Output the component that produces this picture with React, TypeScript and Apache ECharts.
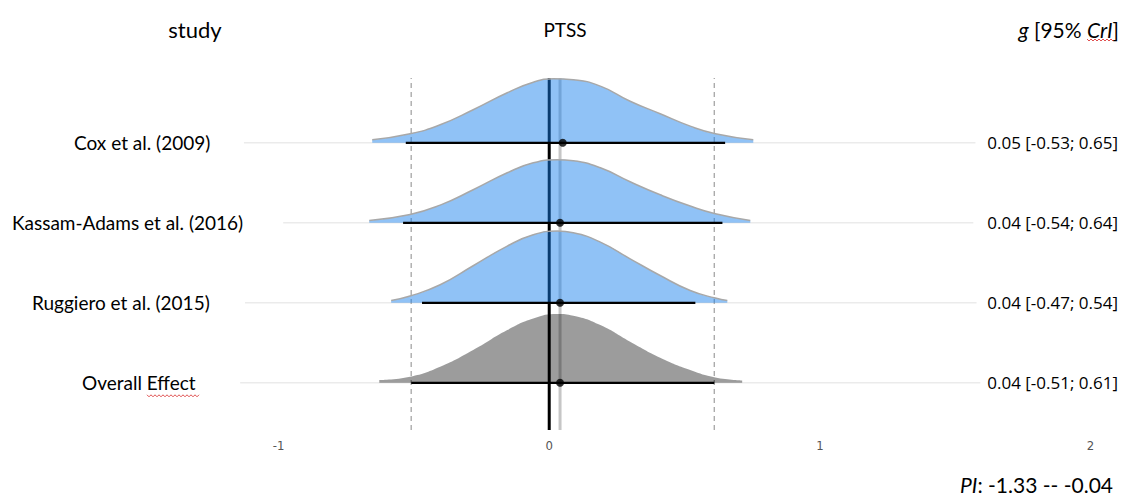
import React, { useEffect, useRef } from "react";
import * as echarts from "echarts";

// ---------- data ----------
const studies = ["Cox et al. (2009)", "Kassam-Adams et al. (2016)", "Ruggiero et al. (2015)", "Overall Effect"];
const rows = [4, 3, 2, 1];
const means = [0.05, 0.04, 0.04, 0.04];
const lower = [-0.53, -0.54, -0.47, -0.51];
const upper = [0.65, 0.64, 0.54, 0.61];
const estimateLabels = ["0.05 [-0.53; 0.65]", "0.04 [-0.54; 0.64]", "0.04 [-0.47; 0.54]", "0.04 [-0.51; 0.61]"];
const overallMean = 0.04;
const xTicks = [-1, 0, 1, 2];
const piText = "-1.33 -- -0.04";

// posterior densities (x, height as fraction of a row)
const coxX = [-0.654, -0.514, -0.403, -0.281, -0.155, -0.059, 0.015, 0.089, 0.189, 0.299, 0.41, 0.521, 0.614, 0.754];
const coxH = [0.038, 0.113, 0.225, 0.413, 0.625, 0.757, 0.8, 0.788, 0.708, 0.52, 0.363, 0.208, 0.113, 0.038];
const kassamX = [-0.665, -0.514, -0.403, -0.281, -0.155, -0.059, 0.03, 0.089, 0.189, 0.299, 0.41, 0.521, 0.614, 0.743];
const kassamH = [0.029, 0.104, 0.221, 0.413, 0.625, 0.75, 0.788, 0.775, 0.688, 0.513, 0.35, 0.209, 0.113, 0.029];
const ruggieroX = [-0.584, -0.514, -0.403, -0.281, -0.155, -0.059, 0.03, 0.089, 0.189, 0.299, 0.41, 0.521, 0.614, 0.658];
const ruggieroH = [0.029, 0.084, 0.225, 0.463, 0.709, 0.85, 0.896, 0.875, 0.759, 0.55, 0.341, 0.154, 0.059, 0.029];
const overallX = [-0.628, -0.514, -0.403, -0.281, -0.155, -0.059, 0.03, 0.089, 0.189, 0.299, 0.41, 0.521, 0.614, 0.713];
const overallH = [0.034, 0.075, 0.2, 0.409, 0.659, 0.804, 0.859, 0.838, 0.721, 0.513, 0.313, 0.159, 0.066, 0.029];

// ---------- layout / style ----------
const densX = [coxX, kassamX, ruggieroX, overallX];
const densH = [coxH, kassamH, ruggieroH, overallH];
const gridStart = [-1.128, -0.983, -1.124, -1.142];
const gridEnd = [1.575, 1.567, 1.579, 1.593];
const labelLeft = [74, 12, 32, 82];
const Y_MIN = 0.41;
const Y_MAX = 4.81;
const SANS = "Lato, 'Open Sans', sans-serif";
const NUMF = "'Open Sans', 'Noto Sans', sans-serif";

function squiggle(x0: number, x1: number, y: number) {
  const pts: number[][] = [];
  let up = true;
  for (let x = x0; x <= x1; x += 2) {
    pts.push([x, up ? y - 1 : y + 1]);
    up = !up;
  }
  return pts;
}

export default function App() {
  const ref = useRef<HTMLDivElement>(null);
  useEffect(() => {
    if (!ref.current) return;
    const chart = echarts.init(ref.current, null, { renderer: "svg" });
    const series: any[] = [];
    rows.forEach((r, i) => {
      series.push({
        type: "line",
        data: [[gridStart[i], r], [gridEnd[i], r]],
        symbol: "none",
        silent: true,
        lineStyle: { color: "#ebebeb", width: 1.5 },
        z: 1,
      });
    });
    [lower[3], upper[3]].forEach((v) => {
      series.push({
        type: "line",
        data: [[v, Y_MIN], [v, Y_MAX]],
        symbol: "none",
        silent: true,
        lineStyle: { color: "#ababab", width: 1.4, type: [5, 4] },
        z: 2,
      });
    });
    series.push({
      type: "line",
      data: [[0, Y_MIN], [0, Y_MAX]],
      symbol: "none",
      silent: true,
      lineStyle: { color: "#000", width: 3 },
      z: 2,
    });
    series.push({
      type: "line",
      data: [[overallMean, Y_MIN], [overallMean, Y_MAX]],
      symbol: "none",
      silent: true,
      lineStyle: { color: "#c6c6c6", width: 3 },
      z: 2,
    });
    rows.forEach((r, i) => {
      const isOverall = i === 3;
      series.push({
        type: "line",
        data: densX[i].map((x, j) => [x, r + densH[i][j]]),
        symbol: "none",
        smooth: 0.5,
        silent: true,
        lineStyle: { color: isOverall ? "rgba(0,0,0,0)" : "#a8a8a8", width: 1.5 },
        areaStyle: {
          color: isOverall ? "rgba(0,0,0,0.39)" : "rgba(20,125,235,0.47)",
          origin: r,
          opacity: 1,
        },
        z: 3,
      });
    });
    rows.forEach((r, i) => {
      series.push({
        type: "line",
        data: [[lower[i], r], [upper[i], r]],
        symbol: "none",
        silent: true,
        lineStyle: { color: "#000", width: 2.3 },
        z: 4,
      });
    });
    series.push({
      type: "scatter",
      data: rows.map((r, i) => [means[i], r]),
      symbol: "circle",
      symbolSize: 8,
      itemStyle: { color: "#000" },
      silent: true,
      z: 5,
    });

    chart.setOption({
      animation: false,
      grid: { left: 238, right: 17, top: 78, bottom: 65 },
      xAxis: {
        type: "value",
        min: -1.15,
        max: 2.05,
        axisLine: { show: false },
        axisTick: { show: false },
        splitLine: { show: false },
        axisLabel: {
          customValues: xTicks,
          color: "#555",
          fontSize: 13,
          margin: 9,
          fontFamily: "'Liberation Sans Narrow', 'DejaVu Sans Condensed', 'Liberation Sans', sans-serif",
          formatter: (v: number) => String(v),
        },
      },
      yAxis: { type: "value", min: Y_MIN, max: Y_MAX, show: false },
      series,
    });

    const rowPx = rows.map((r) => (chart.convertToPixel({ gridIndex: 0 }, [0, r]) as number[])[1]);
    const graphics: any[] = [];
    graphics.push({
      type: "text", x: 195, y: 29,
      style: { text: "study", fontSize: 22, fontFamily: SANS, fill: "#000", align: "center", verticalAlign: "middle" },
    });
    graphics.push({
      type: "text", x: 565, y: 29,
      style: { text: "PTSS", fontSize: 19, fontFamily: SANS, fill: "#000", align: "center", verticalAlign: "middle" },
    });
    graphics.push({
      type: "text", x: 1119, y: 29,
      style: {
        text: "{i|g} {n|[95% }{i|CrI}{n|]}",
        align: "right", verticalAlign: "middle",
        fontSize: 21, fontFamily: SANS, fill: "#000",
        rich: {
          i: { fontStyle: "italic", fontSize: 21, fontFamily: SANS, fill: "#000" },
          n: { fontSize: 21, fontFamily: SANS, fill: "#000" },
        },
      },
    });
    graphics.push({
      type: "polyline", silent: true,
      shape: { points: squiggle(1087, 1113, 40) },
      style: { stroke: "#e05050", lineWidth: 1, fill: null },
    });
    rows.forEach((_, i) => {
      graphics.push({
        type: "text", x: labelLeft[i], y: rowPx[i],
        style: { text: studies[i], fontSize: 19, fontFamily: SANS, fill: "#000", align: "left", verticalAlign: "middle" },
      });
      graphics.push({
        type: "text", x: 1118, y: rowPx[i],
        style: { text: estimateLabels[i], fontSize: 17, fontFamily: NUMF, fill: "#000", align: "right", verticalAlign: "middle" },
      });
    });
    graphics.push({
      type: "polyline", silent: true,
      shape: { points: squiggle(147, 199, rowPx[3] + 13) },
      style: { stroke: "#e05050", lineWidth: 1, fill: null },
    });
    graphics.push({
      type: "text", x: 1113, y: 484,
      style: {
        text: "{i|PI}{n|: " + piText + "}",
        align: "right", verticalAlign: "middle",
        fontSize: 21, fontFamily: SANS, fill: "#000",
        rich: {
          i: { fontStyle: "italic", fontSize: 21, fontFamily: SANS, fill: "#000" },
          n: { fontSize: 21, fontFamily: SANS, fill: "#000" },
        },
      },
    });
    chart.setOption({ graphic: graphics });
    return () => chart.dispose();
  }, []);
  return <div ref={ref} style={{ position: "absolute", left: 0, top: 0, width: 1121, height: 495, background: "#fff" }} />;
}
